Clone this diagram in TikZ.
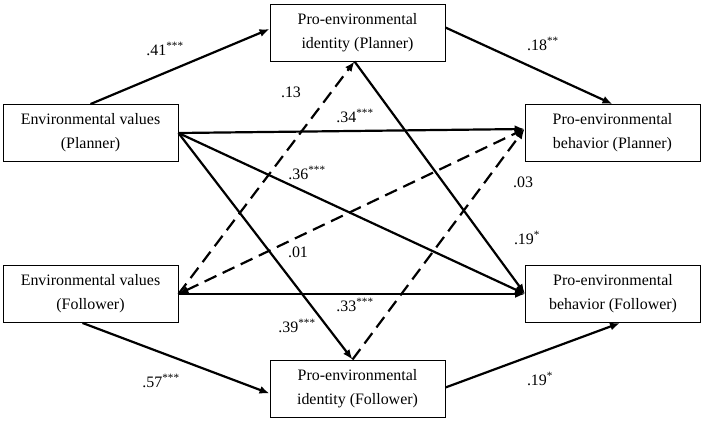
\documentclass[tikz,border=0pt]{standalone}
\usepackage{fontspec}
\setmainfont{Liberation Serif}
\usetikzlibrary{arrows.meta}
\begin{document}
\begin{tikzpicture}[x=1bp,y=-1bp,
  box/.style={draw, line width=0.9bp, minimum width=175bp, minimum height=57bp, align=center, inner sep=0pt, font=\fontsize{16}{24}\selectfont},
  conn/.style={line width=2.2bp, -{Latex[length=10bp,width=8bp]}},
  dsh/.style={dash pattern=on 13bp off 7bp},
  lbl/.style={font=\fontsize{16}{19}\selectfont, inner sep=0pt}]
\useasboundingbox (0,0) rectangle (708,421);
\fill[white] (0,0) rectangle (708,421);
% boxes
\node[box] (PIP) at (357.5,32.5) {Pro-environmental\\identity (Planner)};
\node[box] (EVP) at (90.5,133) {Environmental values\\(Planner)};
\node[box] (PBP) at (612.5,133) {Pro-environmental\\behavior (Planner)};
\node[box] (EVF) at (90.5,294) {Environmental values\\(Follower)};
\node[box] (PBF) at (613,294) {Pro-environmental\\behavior (Follower)};
\node[box] (PIF) at (357.5,388.5) {Pro-environmental\\identity (Follower)};
% coordinates
\coordinate (pipS) at ([xshift=-3bp]PIP.south);
\coordinate (pifN) at ([xshift=-5bp]PIF.north);
\coordinate (pbpW) at ([yshift=4bp]PBP.west);
% connectors
\draw[conn] (EVP.north) -- ([yshift=3.5bp]PIP.west);
\draw[conn] ([yshift=5bp]PIP.east) -- (PBP.north);
\draw[conn] (EVP.east) -- (pbpW);
\draw[conn] (EVP.east) -- (PBF.west);
\draw[conn] (EVP.east) -- (pifN);
\draw[conn,dsh] (EVF.east) -- (pipS);
\draw[conn,dsh,{Latex[length=10bp,width=8bp]}-{Latex[length=10bp,width=8bp]}] (EVF.east) -- (pbpW);
\draw[conn] (EVF.east) -- (PBF.west);
\draw[conn] (pipS) -- (PBF.west);
\draw[conn,dsh] (pifN) -- (pbpW);
\draw[conn] ([yshift=1bp]PIF.east) -- ([xshift=7bp]PBF.south);
\draw[conn] ([xshift=-8bp]EVF.south) -- ([yshift=-5bp]PIF.west);
% labels
\node[lbl] (l41) at (165,49) {.41\textsuperscript{***}};
\node[lbl] (l18) at (543,44) {.18\textsuperscript{**}};
\node[lbl] (l13) at (291,92) {.13};
\node[lbl] (l34) at (355,116) {.34\textsuperscript{***}};
\node[lbl] (l36) at (307,173) {.36\textsuperscript{***}};
\node[lbl] (l03) at (523,182) {.03};
\node[lbl] (l01) at (298,252) {.01};
\node[lbl] (l19a) at (527,238) {.19\textsuperscript{*}};
\node[lbl] (l33) at (355,305) {.33\textsuperscript{***}};
\node[lbl] (l39) at (297,326) {.39\textsuperscript{***}};
\node[lbl] (l57) at (161,381) {.57\textsuperscript{***}};
\node[lbl] (l19b) at (540,379) {.19\textsuperscript{*}};
\end{tikzpicture}
\end{document}
